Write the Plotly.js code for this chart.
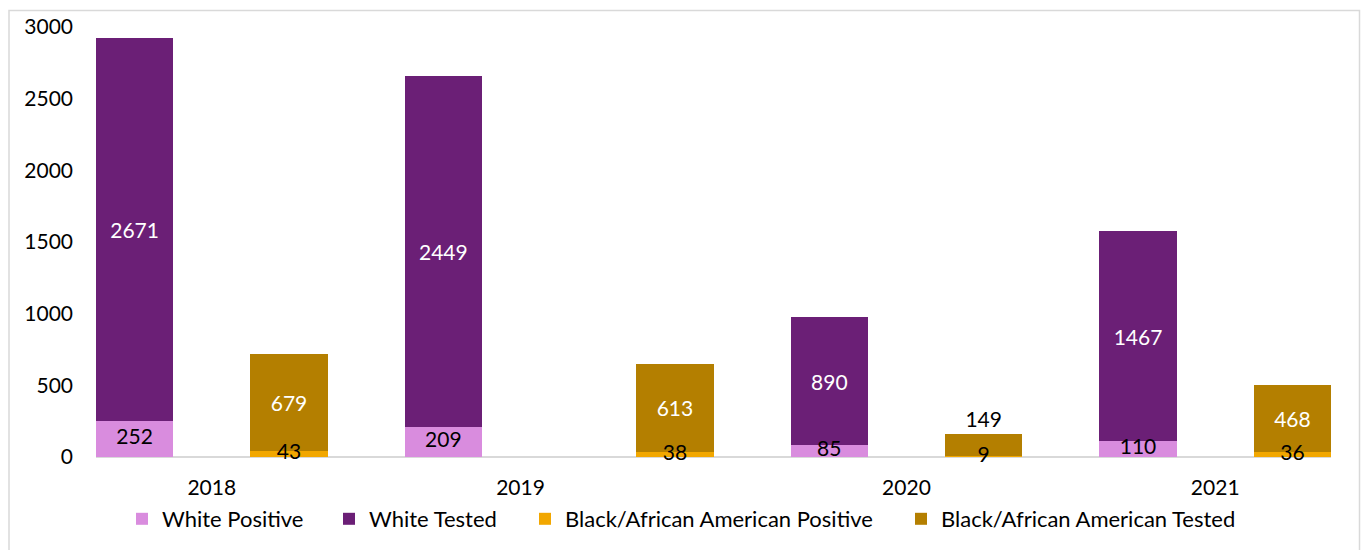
<!DOCTYPE html>
<html><head><meta charset="utf-8">
<script src="https://cdn.plot.ly/plotly-3.0.1.min.js"></script>
<style>html,body{margin:0;padding:0;background:#fff}#chart{width:1366px;height:550px}</style>
</head><body><div id="chart"></div>
<script>
// ---- data ----
const years = ['2018', '2019', '2020', '2021'];
const whitePositive = [252, 209, 85, 110];
const whiteTested = [2671, 2449, 890, 1467];
const blackPositive = [43, 38, 9, 36];
const blackTested = [679, 613, 149, 468];
const seriesNames = ['White Positive', 'White Tested', 'Black/African American Positive', 'Black/African American Tested'];
const yTicks = [0, 500, 1000, 1500, 2000, 2500, 3000];

// ---- layout (slot index among 16 equal slots) ----
const nSlots = 16;
const whiteSlot = [0, 4, 9, 13];
const blackSlot = [2, 7, 11, 15];
const labelSlot = [1, 5, 10, 14];
const colors = ['#D98CDE', '#6B1F76', '#F2A700', '#B47F00'];

const W = 1366, H = 550;
const yMax = 3000;
const pxPerUnit = 430 / yMax;           // 0 at y=457, 3000 at y=27
const extraPx = 10;                     // room below zero so overflowing labels show
const yMin = -extraPx / pxPerUnit;
const M = {l: 96, r: 35, t: 27, b: 93 - extraPx};
const PW = W - M.l - M.r, PH = H - M.t - M.b;
const FONT = 'Lato, "Open Sans", sans-serif';
const FS = 21;

const cx = s => s.map(v => v + 0.5);

function barTrace(i, slots, vals, legendId, withText, extra) {
  const t = {
    type: 'bar', name: seriesNames[i], x: cx(slots), y: vals, width: 1,
    marker: {color: colors[i], line: {width: 0}},
    hoverinfo: 'skip', legend: legendId, cliponaxis: false
  };
  if (withText) {
    Object.assign(t, {
      text: vals.map(String), textposition: 'inside', insidetextanchor: 'middle',
      constraintext: 'none', textangle: 0,
      insidetextfont: {family: FONT, size: FS, color: '#fff'},
      outsidetextfont: {family: FONT, size: FS, color: '#000'}
    });
  }
  return Object.assign(t, extra || {});
}

// centred labels for the thin bottom segments (drawn as text at each segment's middle)
function segLabel(slots, vals) {
  return {type: 'scatter', mode: 'text', x: cx(slots), y: vals.map(v => v / 2),
    text: vals.map(String), textposition: 'middle center',
    textfont: {family: FONT, size: FS, color: '#000'},
    cliponaxis: false, showlegend: false, hoverinfo: 'skip'};
}

const traces = [
  barTrace(0, whiteSlot, whitePositive, 'legend', false),
  barTrace(1, whiteSlot, whiteTested, 'legend2', true),
  barTrace(2, blackSlot, blackPositive, 'legend3', false),
  barTrace(3, blackSlot, blackTested, 'legend4', true,
    {textposition: blackTested.map((v, k) => k === 2 ? 'outside' : 'inside')}),
  segLabel(whiteSlot, whitePositive),
  segLabel(blackSlot, blackPositive)
];

// legend item left edges (px in container)
const legendX = [122, 329, 525, 901];
const legendY = 519;
function legendCfg(k) {
  return {x: legendX[k] / W, y: 1 - legendY / H, xref: 'container', yref: 'container',
    xanchor: 'left', yanchor: 'middle', orientation: 'h', bgcolor: 'rgba(0,0,0,0)',
    font: {family: FONT, size: 22, color: '#000'}, itemwidth: 30};
}

const px2x = p => (p - M.l) / PW;
const py2y = p => (H - M.b - p) / PH;

const layout = {
  width: W, height: H, margin: M, barmode: 'stack', bargap: 0,
  paper_bgcolor: '#fff', plot_bgcolor: '#fff',
  font: {family: FONT, size: FS, color: '#000'},
  showlegend: true,
  legend: legendCfg(0), legend2: legendCfg(1), legend3: legendCfg(2), legend4: legendCfg(3),
  xaxis: {range: [0, nSlots], tickmode: 'array', tickvals: cx(labelSlot), ticktext: years,
    showgrid: false, zeroline: false, showline: false,
    ticks: '', ticklabelstandoff: 6, tickfont: {family: FONT, size: FS, color: '#000'}, fixedrange: true},
  yaxis: {range: [yMin, yMax], tickmode: 'array', tickvals: yTicks,
    showgrid: false, zeroline: true, zerolinecolor: '#D9D9D9', zerolinewidth: 1.5,
    showline: false, ticks: '', ticklabelstandoff: 22,
    tickfont: {family: FONT, size: FS, color: '#000'}, fixedrange: true},
  shapes: [{type: 'rect', xref: 'paper', yref: 'paper',
    x0: px2x(9), x1: px2x(1359.5), y0: py2y(552), y1: py2y(10.5),
    line: {color: '#D9D9D9', width: 1.5}, layer: 'below'}]
};

Plotly.newPlot('chart', traces, layout, {staticPlot: true, displayModeBar: false});
</script></body></html>
